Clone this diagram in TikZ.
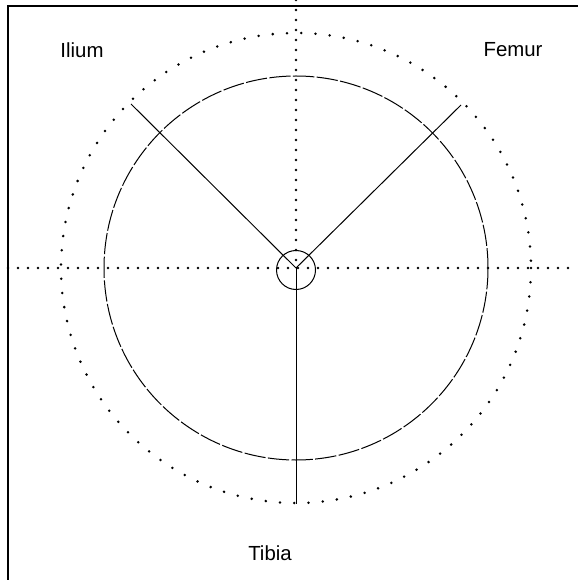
\documentclass[tikz,border=0pt]{standalone}
\usepackage{fontspec}
\setmainfont{Liberation Sans}
\begin{document}
\begin{tikzpicture}[x=0.75pt,y=-0.75pt,
  frameline/.style={line width=0.8pt, black},
  boneline/.style={line width=0.75pt, black},
  axisdots/.style={line width=2pt, line cap=round, dash pattern=on 0pt off 7.5pt},
  ringdots/.style={line width=2.1pt, line cap=round, dash pattern=on 0pt off 10.7pt},
  ringdash/.style={line width=0.75pt, dash pattern=on 16pt off 1.8pt},
  lbl/.style={font=\fontsize{15.3}{18}\selectfont, inner sep=0pt}]
\useasboundingbox (0,0) rectangle (578,580);
% frame (left and top edges visible)
\coordinate (ftl) at (8,6);
\coordinate (ftr) at (578,6);
\coordinate (fbl) at (8,580);
\draw[frameline] (fbl) -- (ftl) -- (ftr);
% centre and axes
\coordinate (c) at (296,268);
\coordinate (axl) at (8,268);
\coordinate (axr) at (578,268);
\coordinate (axt) at (296,0);
\draw[axisdots] (axl) -- (axr);
\draw[axisdots] (axt) -- (c);
% circles
\draw[ringdots] (c) circle (235);
\draw[ringdash] (c) circle (192);
\draw[boneline] (296,270) circle (19.5);
% bone lines
\coordinate (il) at (131,104);
\coordinate (fe) at (461,105);
\coordinate (ti) at (296,504);
\draw[boneline] (c) -- (il);
\draw[boneline] (c) -- (fe);
\draw[boneline] (c) -- (ti);
% labels
\node[lbl] (ilium) at (82,50) {Ilium};
\node[lbl] (femur) at (513,50) {Femur};
\node[lbl] (tibia) at (270,553) {Tibia};
\end{tikzpicture}
\end{document}
